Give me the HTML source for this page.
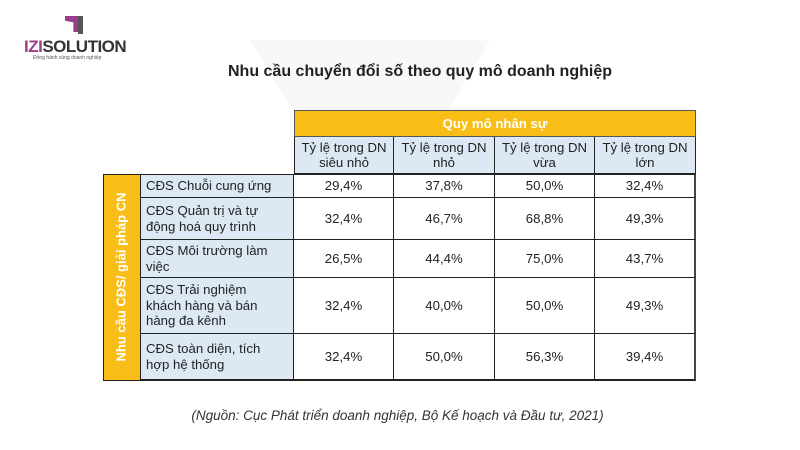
<!DOCTYPE html>
<html><head><meta charset="utf-8"><style>
body{margin:0;width:800px;height:450px;background:#fff;position:relative;overflow:hidden;font-family:"Liberation Sans",sans-serif;color:#222}
.a{position:absolute;box-sizing:border-box}
.c{display:flex;align-items:center;justify-content:center;text-align:center;font-size:13.2px;line-height:15.5px;border-right:1px solid #222;border-bottom:1px solid #222;background:#fff}
.l{justify-content:flex-start;text-align:left;padding-left:5px;background:#dce9f5}
.h{background:#dce9f5}
</style></head><body>
<div class="a" style="left:250px;top:40px;width:0;height:0;border-left:120px solid transparent;border-right:120px solid transparent;border-top:200px solid #f8f8f8"></div>
<div class="a" style="left:65px;top:16px;width:14px;height:16px;background:#9b3d8a;clip-path:polygon(0 0,100% 0,100% 100%,60% 100%,60% 40%,0 30%)"></div>
<div class="a" style="left:78px;top:16px;width:5px;height:18px;background:#555"></div>
<div class="a" style="left:24px;top:37px;font-size:17px;font-weight:bold;letter-spacing:-0.5px"><span style="color:#9b3d8a">IZI</span><span style="color:#333">SOLUTION</span></div>
<div class="a" style="left:33px;top:55px;font-size:5px;color:#555">Đồng hành cùng doanh nghiệp</div>
<div class="a" style="left:0;width:840px;top:63px;text-align:center;font-size:16px;font-weight:bold;color:#222">Nhu cầu chuyển đổi số theo quy mô doanh nghiệp</div>

<div class="a c" style="left:294px;top:110px;width:402px;height:27px;background:#f8bd16;color:#fff;font-weight:bold;border:1px solid #555">Quy mô nhân sự</div>
<div class="a c h" style="left:294px;top:137px;width:100px;height:37px;border-left:1px solid #222">Tỷ lệ trong DN<br>siêu nhỏ</div>
<div class="a c h" style="left:394px;top:137px;width:101px;height:37px">Tỷ lệ trong DN<br>nhỏ</div>
<div class="a c h" style="left:495px;top:137px;width:100px;height:37px">Tỷ lệ trong DN<br>vừa</div>
<div class="a c h" style="left:595px;top:137px;width:101px;height:37px">Tỷ lệ trong DN<br>lớn</div>

<div class="a" style="left:103px;top:174px;width:37px;height:207px;background:#f8bd16;border:1px solid #222;border-right:none"></div>
<div class="a" style="left:121px;top:277px;transform:translate(-50%,-50%) rotate(-90deg);white-space:nowrap;color:#fff;font-weight:bold;font-size:13px">Nhu cầu CĐS/ giải pháp CN</div>

<div class="a c l" style="left:140px;top:174px;width:154px;height:24px;border-top:1px solid #222;border-left:1px solid #222">CĐS Chuỗi cung ứng</div>
<div class="a c l" style="left:140px;top:198px;width:154px;height:42px;border-left:1px solid #222">CĐS Quản trị và tự<br>động hoá quy trình</div>
<div class="a c l" style="left:140px;top:240px;width:154px;height:38px;border-left:1px solid #222">CĐS Môi trường làm<br>việc</div>
<div class="a c l" style="left:140px;top:278px;width:154px;height:56px;border-left:1px solid #222">CĐS Trải nghiệm<br>khách hàng và bán<br>hàng đa kênh</div>
<div class="a c l" style="left:140px;top:334px;width:154px;height:47px;border-left:1px solid #222;border-bottom:2px solid #222">CĐS toàn diện, tích<br>hợp hệ thống</div>

<div id="g"></div>
<script>
var rows=[[174,24],[198,42],[240,38],[278,56],[334,47]];
var cols=[[294,100],[394,101],[495,100],[595,101]];
var d=[["29,4%","37,8%","50,0%","32,4%"],["32,4%","46,7%","68,8%","49,3%"],["26,5%","44,4%","75,0%","43,7%"],["32,4%","40,0%","50,0%","49,3%"],["32,4%","50,0%","56,3%","39,4%"]];
var h="";
for(var i=0;i<5;i++)for(var j=0;j<4;j++){
h+='<div class="a c" style="left:'+cols[j][0]+'px;top:'+rows[i][0]+'px;width:'+cols[j][1]+'px;height:'+rows[i][1]+'px;'+(i==0?'border-top:1px solid #222;':'')+(i==4?'border-bottom:2px solid #222;':'')+(j==3?'border-right:2px solid #444;':'')+'">'+d[i][j]+'</div>';}
document.getElementById("g").innerHTML=h;
</script>
<div class="a" style="left:0;width:795px;top:408px;text-align:center;font-size:13.5px;font-style:italic;color:#333">(Nguồn: Cục Phát triển doanh nghiệp, Bộ Kế hoạch và Đầu tư, 2021)</div>
</body></html>
